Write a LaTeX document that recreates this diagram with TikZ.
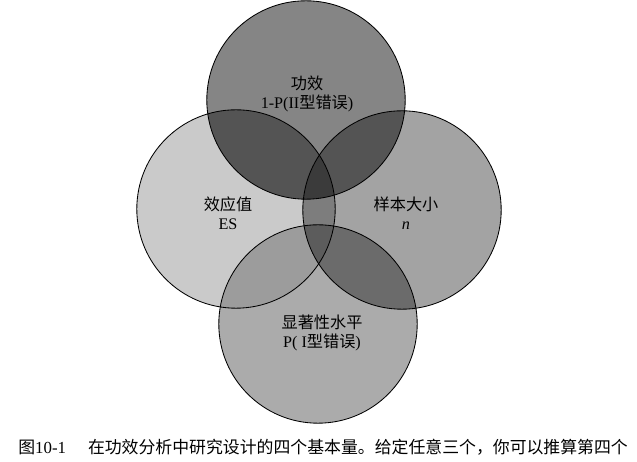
\documentclass[tikz,border=0pt]{standalone}
\usepackage{fontspec}
\setmainfont{Liberation Serif}
\newfontfamily\cjk{Noto Sans CJK SC}
\usepackage{xcolor}
\usepackage{tikz}

\definecolor{powgray}{HTML}{858585}
\definecolor{esgray}{HTML}{CACACA}
\definecolor{ngray}{HTML}{A3A3A3}
\definecolor{siggray}{HTML}{ABABAB}

\newcommand{\rad}{2.48}

\begin{document}
\begin{tikzpicture}
            \path[use as bounding box, fill=white] (0,0) rectangle (15.925,11.55);
            \tikzset{ring/.style={draw=black, line width=0.6pt},
                     lbl/.style={align=center, font=\fontsize{11.5}{13.5}\selectfont}}

            \coordinate (pw) at (7.65,9.05);
            \coordinate (es) at (5.9,6.325);
            \coordinate (nn) at (10.05,6.3);
            \coordinate (sg) at (7.95,3.45);

            % single circles
            \fill[powgray] (pw) circle (\rad);
            \fill[esgray] (es) circle (\rad);
            \fill[ngray] (nn) circle (\rad);
            \fill[siggray] (sg) circle (\rad);

            % pairs
            \begin{scope}
                \clip (pw) circle (\rad);
                \fill[black!67] (es) circle (\rad);
                \fill[black!67] (nn) circle (\rad);
            \end{scope}
            \begin{scope}
                \clip (es) circle (\rad);
                \fill[black!51] (nn) circle (\rad);
                \fill[black!39] (sg) circle (\rad);
            \end{scope}
            \begin{scope}
                \clip (nn) circle (\rad);
                \fill[black!58] (sg) circle (\rad);
            \end{scope}

            % triples
            \begin{scope}
                \clip (pw) circle (\rad);
                \clip (es) circle (\rad);
                \fill[black!77] (nn) circle (\rad);
            \end{scope}
            \begin{scope}
                \clip (sg) circle (\rad);
                \clip (es) circle (\rad);
                \fill[black!64] (nn) circle (\rad);
            \end{scope}

            \draw[ring] (pw) circle (\rad);
            \draw[ring] (es) circle (\rad);
            \draw[ring] (nn) circle (\rad);
            \draw[ring] (sg) circle (\rad);

            \node[lbl] (pwtext) at (7.675,9.2) {{\cjk 功效}\\1-P(II{\cjk 型错误})};
            \node[lbl] (estext) at (5.7,6.21) {{\cjk 效应值}\\ES};
            \node[lbl] (ntext) at (10.15,6.21) {{\cjk 样本大小}\\\textit{n}};
            \node[lbl] (sgtext) at (8.05,3.22) {{\cjk 显著性水平}\\P( I{\cjk 型错误})};

            \node[anchor=west, inner sep=0pt, font=\fontsize{12}{14}\selectfont] (caption) at (0.45,0.37)
                {{\cjk 图}10-1\hspace{1.3em}{\cjk 在功效分析中研究设计的四个基本量。给定任意三个，你可以推算第四个}};
        \end{tikzpicture}
\end{document}
